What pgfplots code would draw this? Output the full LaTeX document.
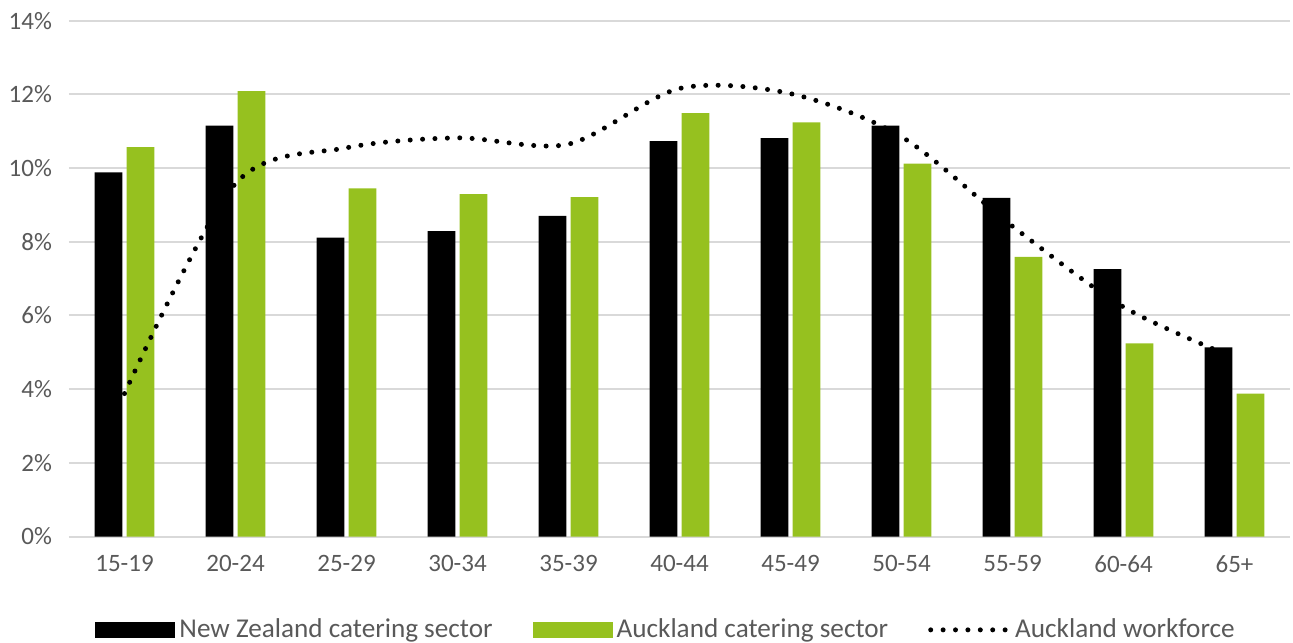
\documentclass[border=0pt]{standalone}
\usepackage{fontspec}
\setmainfont{Carlito}
\usepackage{pgfplots}
\pgfplotsset{compat=1.18}
\definecolor{akgreen}{HTML}{96C11F}
\definecolor{txtgray}{HTML}{595959}
\definecolor{gridgray}{HTML}{D9D9D9}
\begin{document}
\begin{tikzpicture}
\begin{axis}[
  name=ax,
  scale only axis, width=610.5pt, height=257.9pt,
  xmin=-0.5, xmax=10.5, ymin=0, ymax=14,
  axis line style={draw=none},
  ymajorgrids, grid style={gridgray, line width=1pt},
  major tick length=0pt,
  xtick={0,...,10},
  xticklabels={15-19,20-24,25-29,30-34,35-39,40-44,45-49,50-54,55-59,60-64,65+},
  ytick={0,2,...,14},
  yticklabels={0\%,2\%,4\%,6\%,8\%,10\%,12\%,14\%},
  tick label style={text=txtgray, font=\fontsize{12.5}{15}\selectfont},
  yticklabel style={xshift=-5pt},
  xticklabel style={yshift=-6pt},
  clip=false,
  legend columns=3,
  legend style={at={(0.4898,-0.181)}, anchor=center, draw=none, fill=none,
    font=\fontsize{13.6}{16}\selectfont, text=txtgray,
    /tikz/every even column/.append style={column sep=18pt}},
]
\addplot[ybar, bar width=0.25, bar shift=-0.145, fill=black, draw=none,
  legend image code/.code={\fill[black] (0pt,-4pt) rectangle (40pt,4pt);}]
  coordinates {(0,9.88) (1,11.15) (2,8.11) (3,8.29) (4,8.70) (5,10.73) (6,10.81) (7,11.15) (8,9.19) (9,7.26) (10,5.13)};
\addlegendentry{New Zealand catering sector}
\addplot[ybar, bar width=0.25, bar shift=0.145, fill=akgreen, draw=none,
  legend image code/.code={\fill[akgreen] (0pt,-4pt) rectangle (40pt,4pt);}]
  coordinates {(0,10.57) (1,12.09) (2,9.45) (3,9.29) (4,9.21) (5,11.49) (6,11.24) (7,10.12) (8,7.59) (9,5.24) (10,3.88)};
\addlegendentry{Auckland catering sector}
\addplot[black, line width=2.5pt, dash pattern=on 0pt off 6.2pt, line cap=round, smooth, tension=0.5,
  legend image code/.code={\draw[black, line width=2.5pt, dash pattern=on 0pt off 6.2pt, line cap=round] (1pt,0pt) -- (40pt,0pt);}]
  coordinates {(0,3.88) (1,9.58) (2,10.55) (3,10.82) (4,10.65) (5,12.16) (6,12.02) (7,10.85) (8,8.42) (9,6.23) (10,4.85)};
\addlegendentry{Auckland workforce}
\end{axis}
\pgfresetboundingbox
\path[use as bounding box] ([xshift=-34.5pt,yshift=-52.75pt]ax.south west) rectangle ([xshift=1.5pt,yshift=10.35pt]ax.north east);
\end{tikzpicture}
\end{document}
